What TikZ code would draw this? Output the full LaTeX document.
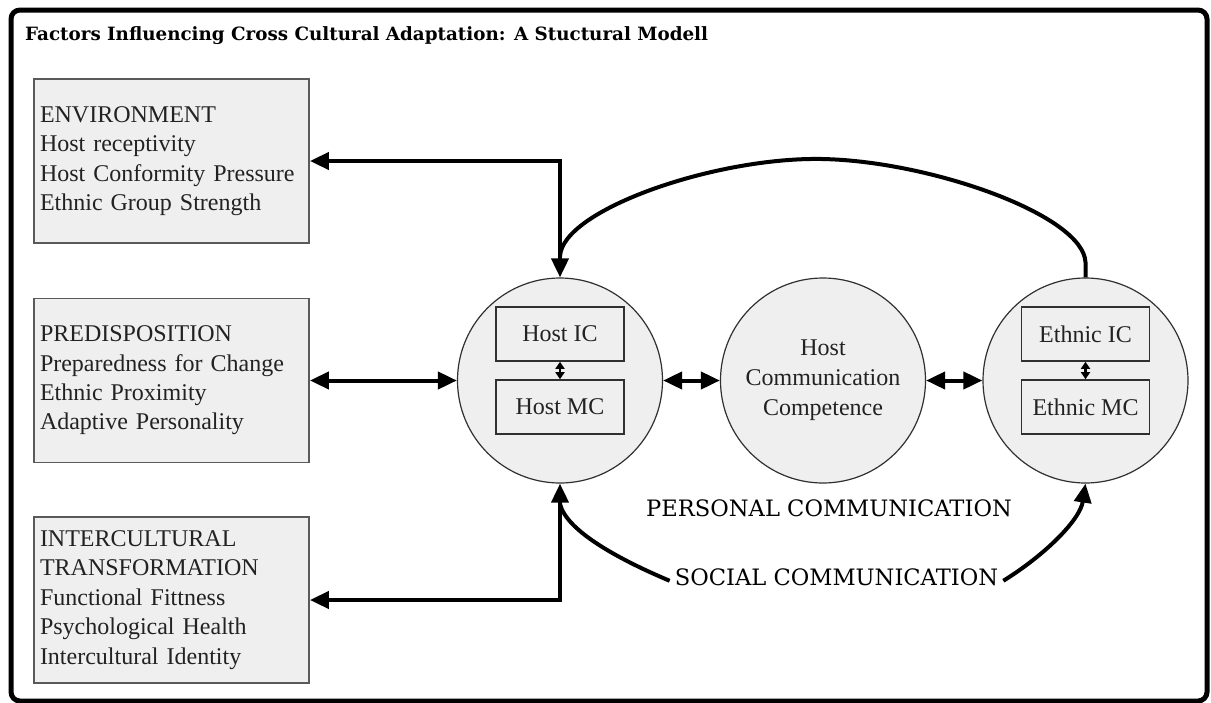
\documentclass[tikz,border=0pt]{standalone}
\usepackage{fontspec}
\setmainfont{Liberation Serif}
\newfontfamily\capfont{DejaVu Serif}
\usetikzlibrary{arrows.meta,calc}
\definecolor{panel}{HTML}{EFEFEF}
\definecolor{boxedge}{HTML}{5A5A5A}
\definecolor{ringedge}{HTML}{303030}
\definecolor{ink}{HTML}{222222}
\begin{document}
\begin{tikzpicture}[x=1pt,y=-1pt,
  factor/.style={draw=boxedge, line width=1.8pt, fill=panel,
    minimum width=275pt, minimum height=164pt, text width=263pt,
    inner xsep=6pt, align=left, text=ink,
    font=\fontsize{24}{29.4}\selectfont},
  ring/.style={circle, draw=ringedge, line width=1.2pt, fill=panel,
    minimum size=205pt, inner sep=0pt, text=ink, align=center,
    font=\fontsize{24}{30}\selectfont},
  part/.style={draw=ringedge, line width=1.6pt, fill=panel,
    minimum width=128pt, minimum height=54pt, inner sep=0pt, text=ink,
    font=\fontsize{24}{28}\selectfont},
  conn/.style={line width=4pt,
    {Triangle[length=19pt,width=17pt]}-{Triangle[length=19pt,width=17pt]}},
  oneway/.style={line width=4pt, -{Triangle[length=19pt,width=17pt]}},
  plain/.style={line width=4pt},
  minor/.style={line width=2.4pt,
    {Triangle[length=7pt,width=9pt]}-{Triangle[length=7pt,width=9pt]}},
  caption/.style={font=\capfont\fontsize{22.6}{26}\selectfont, inner sep=0pt}]

\useasboundingbox (0,0) rectangle (1211,702);

% outer frame
\draw[line width=5pt, rounded corners=9pt] (11,10) rectangle (1207,701);

% heading
\node[anchor=base west, inner sep=0pt,
  font=\capfont\bfseries\fontsize{18.3}{20}\selectfont]
  (title) at (25,40) {Factors Influencing Cross Cultural Adaptation: A Stuctural Modell};

% factor boxes on the left
\node[factor] (env) at (171.5,161)
  {ENVIRONMENT\\Host receptivity\\Host Conformity Pressure\\Ethnic Group Strength};
\node[factor] (pred) at (171.5,380.5)
  {PREDISPOSITION\\Preparedness for Change\\Ethnic Proximity\\Adaptive Personality};
\node[factor, minimum height=166pt] (ict) at (171.5,600)
  {INTERCULTURAL\\TRANSFORMATION\\Functional Fittness\\Psychological Health\\Intercultural Identity};

% communication circles
\node[ring] (host) at (560,380.5) {};
\node[ring] (hcc) at (823,380.5) {Host\\Communication\\Competence};
\node[ring] (eth) at (1085.5,380.5) {};

% inner boxes
\node[part] (hostic) at (560,334) {Host IC};
\node[part] (hostmc) at (560,407) {Host MC};
\node[part] (ethic) at (1085.5,334) {Ethnic IC};
\node[part] (ethmc) at (1085.5,407) {Ethnic MC};

\draw[minor] (hostic.south) -- (hostmc.north);
\draw[minor] (ethic.south) -- (ethmc.north);

% labels under the circles
\node[caption, anchor=base] (personal) at (829,516) {PERSONAL COMMUNICATION};
\node[caption, anchor=base, inner xsep=5pt] (social) at (836.5,585) {SOCIAL COMMUNICATION};

% connectors
\draw[conn] (env.east) -- (env.east -| host.north) -- (host.north);
\draw[conn] (pred.east) -- (host.west);
\draw[conn] (ict.east) -| (host.south);
\draw[conn] (host.east) -- (hcc.west);
\draw[conn] (hcc.east) -- (eth.west);

% feedback arc from the ethnic circle into the host arrow
\coordinate (topjoin) at ($(host.north)+(0,-21)$);
\draw[plain] (eth.north) -- ++(0,-15)
  .. controls (1083.5,215) and (930,161) .. (822,159)
  .. controls (715,157) and (562,210) .. (topjoin);

% social communication feeds both circles
\coordinate (botjoin) at ($(host.south)+(0,20)$);
\draw[plain] ($(social.west)+(0,4)$) .. controls (625,562) and (566,532) .. (botjoin);
\draw[oneway] ($(social.east)+(0,4)$) .. controls (1045,555) and (1080,520) .. (eth.south);
\end{tikzpicture}
\end{document}
